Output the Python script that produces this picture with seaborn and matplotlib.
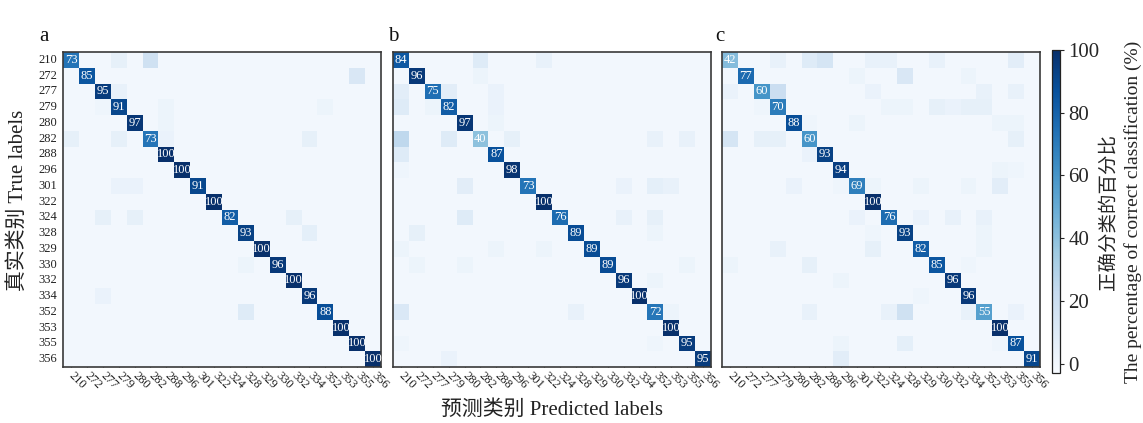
import numpy as np
import pandas as pd
import matplotlib
matplotlib.use("Agg")
import matplotlib.pyplot as plt
import seaborn as sns

classes = ["210", "272", "277", "279", "280", "282", "288", "296", "301", "322",
           "324", "328", "329", "330", "332", "334", "352", "353", "355", "356"]

diag_a = [73, 85, 95, 91, 97, 73, 100, 100, 91, 100, 82, 93, 100, 96, 100, 96, 88, 100, 100, 100]
diag_b = [84, 96, 75, 82, 97, 40, 87, 98, 73, 100, 76, 89, 89, 89, 96, 100, 72, 100, 95, 95]
diag_c = [42, 77, 60, 70, 88, 60, 93, 94, 69, 100, 76, 93, 82, 85, 96, 96, 55, 100, 87, 91]

# off-diagonal entries: (true index, predicted index, percent)
off_a = [(0, 3, 6), (0, 5, 18), (1, 18, 13), (2, 3, 5), (3, 2, 2), (3, 6, 3), (3, 16, 3),
         (4, 6, 3), (5, 0, 6), (5, 3, 6), (5, 6, 4), (5, 15, 6), (8, 3, 4), (8, 4, 4),
         (10, 2, 6), (10, 4, 6), (10, 14, 6), (11, 15, 7), (13, 11, 3), (15, 2, 4), (16, 11, 10)]
off_b = [(0, 5, 10), (0, 9, 5), (1, 5, 3), (2, 0, 8), (2, 3, 8), (2, 6, 4), (3, 0, 10),
         (3, 2, 3), (3, 6, 4), (4, 6, 3), (5, 0, 25), (5, 3, 10), (5, 7, 6), (5, 16, 5),
         (5, 18, 5), (6, 0, 10), (7, 0, 2), (8, 4, 8), (8, 14, 4), (8, 16, 7), (8, 17, 5),
         (10, 4, 10), (10, 14, 5), (10, 16, 6), (11, 1, 6), (11, 16, 3), (12, 0, 3),
         (12, 6, 3), (12, 9, 3), (13, 1, 3), (13, 4, 3), (13, 18, 3), (14, 16, 3),
         (16, 0, 12), (16, 11, 5), (16, 17, 3), (18, 0, 2), (18, 16, 2), (19, 3, 4)]
off_c = [(0, 3, 5), (0, 5, 10), (0, 6, 15), (0, 9, 5), (0, 10, 5), (0, 13, 5), (0, 18, 8),
         (1, 8, 3), (1, 11, 13), (1, 15, 3), (2, 0, 4), (2, 3, 20), (2, 9, 4), (2, 16, 5),
         (2, 18, 5), (3, 2, 2), (3, 10, 3), (3, 11, 3), (3, 13, 6), (3, 14, 4), (3, 15, 6),
         (3, 16, 6), (4, 5, 2), (4, 8, 3), (4, 17, 3), (4, 18, 3), (5, 0, 15), (5, 2, 6),
         (5, 3, 6), (5, 18, 6), (6, 5, 4), (7, 17, 3), (7, 18, 2), (8, 4, 4), (8, 7, 2),
         (8, 9, 3), (8, 12, 3), (8, 15, 3), (8, 17, 8), (10, 8, 4), (10, 12, 4), (10, 14, 5),
         (10, 16, 5), (11, 9, 2), (11, 16, 3), (12, 3, 5), (12, 9, 6), (12, 16, 3),
         (13, 0, 3), (13, 5, 6), (13, 15, 2), (14, 7, 3), (15, 12, 2), (16, 5, 5),
         (16, 10, 5), (16, 11, 18), (16, 15, 5), (16, 18, 4), (18, 7, 3), (18, 11, 7),
         (18, 17, 2), (19, 7, 8)]

panel_letters = ["a", "b", "c"]


def build(diag, off):
    n = len(classes)
    m = np.zeros((n, n))
    for i, v in enumerate(diag):
        m[i, i] = v
    for i, j, v in off:
        m[i, j] = v
    return pd.DataFrame(m, index=classes, columns=classes)


mats = [build(diag_a, off_a), build(diag_b, off_b), build(diag_c, off_c)]
diags = [diag_a, diag_b, diag_c]

sns.set_theme(style="white")
plt.rcParams["font.family"] = ["Liberation Serif", "Noto Sans CJK SC"]
plt.rcParams["axes.unicode_minus"] = False

W, H = 1143, 423
fig = plt.figure(figsize=(W / 100, H / 100), dpi=100)

lefts = [63, 393, 722]
ax_w, top, bottom = 318, 52, 367
axes = [fig.add_axes([l / W, (H - bottom) / H, ax_w / W, (bottom - top) / H]) for l in lefts]
cax = fig.add_axes([1052 / W, (H - 373) / H, 8 / W, (373 - 50) / H])
letter_x = [-0.075, -0.017, -0.022]

for k, (ax, df, dg) in enumerate(zip(axes, mats, diags)):
    n = len(classes)
    annot = np.full((n, n), "", dtype=object)
    for i, v in enumerate(dg):
        annot[i, i] = str(v)
    sns.heatmap(df, ax=ax, cmap="Blues", vmin=-3, vmax=100, annot=annot, fmt="",
                annot_kws={"color": "white", "fontsize": 9},
                cbar=(k == 2), cbar_ax=cax if k == 2 else None,
                square=False, xticklabels=classes, yticklabels=classes if k == 0 else False)
    for s in ax.spines.values():
        s.set_visible(True)
        s.set_color("#3a3a3a")
        s.set_linewidth(1.2)
    ax.tick_params(axis="x", direction="in", length=3, width=0.8, color="#333333",
                   labelsize=9, pad=5, bottom=True)
    for t in ax.get_xticklabels():
        t.set_rotation(-45)
        t.set_ha("left")
        t.set_va("center")
        t.set_rotation_mode("anchor")
        t.set_color("#222222")
    if k == 0:
        ax.tick_params(axis="y", direction="in", length=3, width=0.8, color="#333333",
                       labelsize=9, pad=4, left=True)
        for t in ax.get_yticklabels():
            t.set_rotation(0)
            t.set_color("#222222")
    else:
        ax.tick_params(axis="y", left=False)
    ax.set_xlabel("")
    ax.set_ylabel("")
    ax.text(letter_x[k], 1.02, panel_letters[k], transform=ax.transAxes,
            fontsize=15, ha="left", va="bottom", color="#111111")

cb = axes[2].collections[0].colorbar
cb.set_ticks([0, 20, 40, 60, 80, 100])
cb.ax.tick_params(labelsize=15, length=3, width=0.8, pad=3)
cb.outline.set_edgecolor("#222222")
cb.outline.set_linewidth(0.9)
cb.set_label("正确分类的百分比\nThe percentage of correct classification (%)",
             fontsize=14, labelpad=0, linespacing=1.45)

fig.text(552 / W, 1 - 410 / H, "预测类别 Predicted labels", ha="center", va="center",
         fontsize=15, color="#222222")
fig.text(18 / W, 1 - 200 / H, "真实类别 True labels", ha="center", va="center",
         rotation=90, fontsize=15, color="#222222")

fig.savefig("out.png", dpi=100)
